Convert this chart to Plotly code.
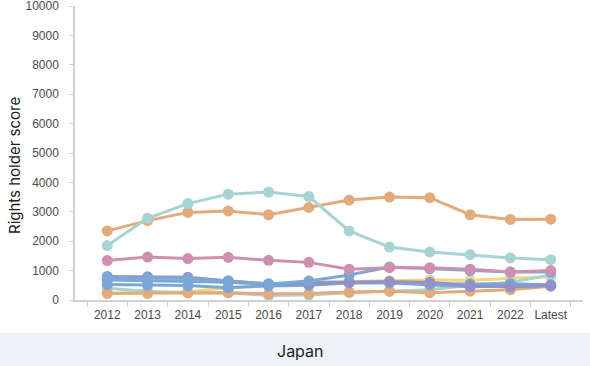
import plotly.graph_objects as go

years = ["2012", "2013", "2014", "2015", "2016", "2017", "2018", "2019", "2020", "2021", "2022", "Latest"]

teal_small = [400, 300, 250, 250, 150, 170, 250, 300, 350, 500, 600, 850]
orange_small = [230, 230, 240, 250, 210, 220, 270, 300, 250, 300, 350, 470]
yellow = [230, 230, 280, 420, 530, 600, 630, 660, 680, 670, 740, 800]
blue_c = [530, 500, 490, 420, 480, 500, 580, 580, 520, 450, 480, 480]
blue_b = [680, 650, 640, 600, 530, 600, 600, 620, 560, 540, 550, 520]
purple = [800, 790, 770, 650, 550, 550, 600, 620, 600, 480, 450, 500]
blue_a = [760, 740, 730, 650, 540, 650, 850, 1120, 1060, 1000, 950, 950]
pink = [1340, 1460, 1410, 1450, 1350, 1280, 1050, 1100, 1100, 1050, 950, 1000]
orange_big = [2350, 2700, 2980, 3030, 2900, 3150, 3400, 3500, 3480, 2900, 2740, 2750]
teal_big = [1850, 2780, 3280, 3600, 3670, 3520, 2350, 1800, 1630, 1540, 1430, 1370]

series = [
    ("yellow", yellow, "#f2d57e"),
    ("teal_small", teal_small, "#a7d4d3"),
    ("orange_small", orange_small, "#e3aa7c"),
    ("blue_c", blue_c, "#7aa8d6"),
    ("blue_b", blue_b, "#7aa8d6"),
    ("purple", purple, "#9590c8"),
    ("blue_a", blue_a, "#7aa8d6"),
    ("pink", pink, "#cf90b0"),
    ("orange_big", orange_big, "#e3aa7c"),
    ("teal_big", teal_big, "#a7d4d3"),
]

fig = go.Figure()
for name, vals, col in series:
    fig.add_trace(go.Scatter(
        x=years, y=vals, name=name, mode="lines+markers",
        line=dict(color=col, width=3),
        marker=dict(color=col, size=11),
        showlegend=False, cliponaxis=False,
    ))

tickfont = dict(family="Liberation Sans, Arial, sans-serif", size=12, color="#4a4a4a")

T, B, L = 6, 66, 75
H = 366 - T - B
W = 590 - L - 7

fig.update_layout(
    width=590, height=366,
    margin=dict(l=L, r=7, t=T, b=B),
    paper_bgcolor="white",
    plot_bgcolor="white",
    xaxis=dict(
        type="category",
        automargin=False,
        tickangle=0,
        showgrid=False,
        showline=True, linecolor="#d0d0d0", linewidth=1.5,
        ticks="outside", tickson="boundaries", ticklen=5, tickcolor="#d0d0d0",
        tickfont=tickfont, ticklabelstandoff=3,
        zeroline=False,
    ),
    yaxis=dict(
        automargin=False,
        range=[0, 10000], dtick=1000, tickformat="d",
        showgrid=False, zeroline=False,
        showline=True, linecolor="#d0d0d0", linewidth=1.5,
        ticks="outside", ticklen=4, tickcolor="#d0d0d0",
        tickfont=tickfont, ticklabelstandoff=8, ticklabeloverflow="allow",
    ),
    shapes=[dict(
        type="rect", xref="paper", yref="paper",
        x0=-L/W, x1=(590-L)/W, y0=(300-366)/H, y1=(300-333)/H,
        fillcolor="#eef3f8", line=dict(width=0), layer="below",
    )],
    annotations=[
        dict(
            text="Japan", xref="paper", yref="paper",
            x=(300-L)/W, y=(300-351)/H, showarrow=False,
            xanchor="center", yanchor="middle",
            font=dict(family="Inter, sans-serif", size=16, color="#222222"),
        ),
        dict(
            text="Rights holder score", xref="paper", yref="paper",
            x=(15-L)/W, y=(300-166)/H, showarrow=False, textangle=-90,
            xanchor="center", yanchor="middle",
            font=dict(family="Inter, sans-serif", size=15, color="#222222"),
        ),
    ],
)

fig.write_html("out.html", config={"displayModeBar": False},
               post_script="document.body.style.margin='0px';")
